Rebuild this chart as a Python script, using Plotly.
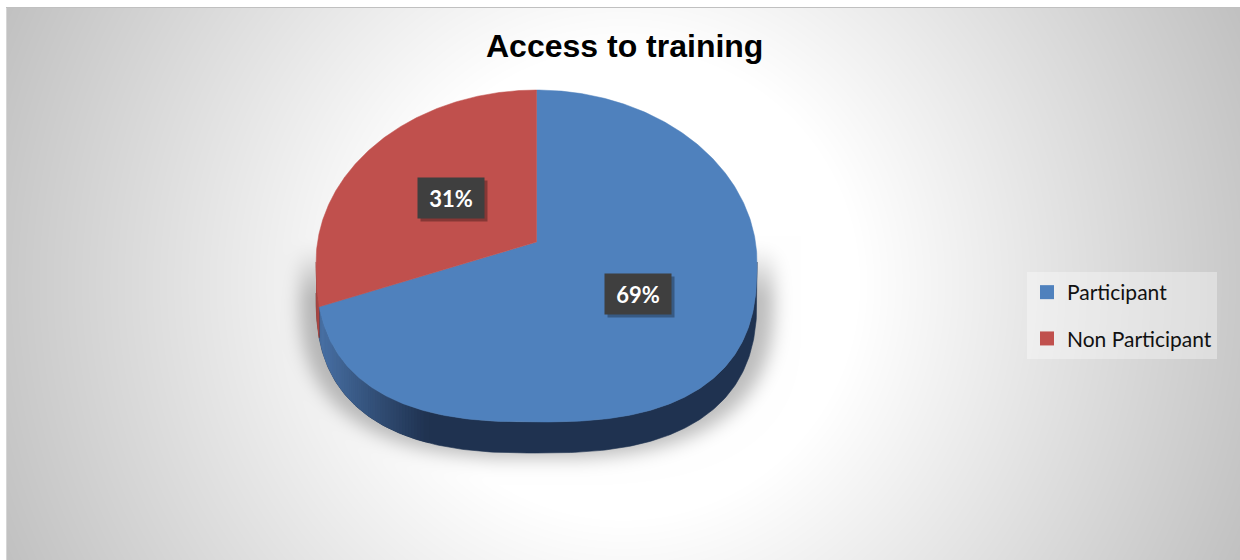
import base64
import struct
import zlib

import numpy as np
import plotly.graph_objects as go

# ---- data -------------------------------------------------------------
labels = ["Participant", "Non Participant"]
shares = [69, 31]
top_colors = ["#4f81bd", "#c0504d"]
side_colors = [("#4a73a8", "#1f3250"), ("#b04a47", "#6a2624")]
title_text = "Access to training"

# ---- canvas / pie geometry -------------------------------------------
W, H = 1240, 560
CX, CY_WIDE = 536.5, 262.0      # centre row of the rim (widest point)
VX, VY = 536.5, 242.0           # apex where the slices meet
RX = 220.5
RY_BACK, RY_FRONT = 172.0, 160.0
FRONT_EXP = 2.6                 # fuller near edge from the tilted view
DEPTH = 31.0                    # thickness of the disc
RY_DIR = 166.0                  # vertical scale used to aim slice edges


def rim(t):
    """Point on the top rim for parameter t (radians, counter-clockwise)."""
    t = np.asarray(t, dtype=float)
    c, s = np.cos(t), np.sin(t)
    back = s >= 0
    p = 2.0 / FRONT_EXP
    xf = CX + RX * np.sign(c) * np.abs(c) ** p
    yf = CY_WIDE + RY_FRONT * np.abs(s) ** p
    xb = CX + RX * c
    yb = CY_WIDE - RY_BACK * s
    return np.where(back, xb, xf), np.where(back, yb, yf)


# polar angle of the rim around the apex, used to aim each slice edge
_ts = np.linspace(0, 2 * np.pi, 6001)
_rx, _ry = rim(_ts)
_phi = np.unwrap(np.arctan2(-(_ry - VY), _rx - VX))


def t_for_angle(theta_deg):
    th = np.radians(theta_deg)
    phi = np.arctan2(RY_DIR * np.sin(th), RX * np.cos(th))
    while phi < _phi[0]:
        phi += 2 * np.pi
    while phi >= _phi[0] + 2 * np.pi:
        phi -= 2 * np.pi
    return float(np.interp(phi, _phi, _ts))


def mix(c1, c2, f):
    a = [int(c1[i:i + 2], 16) for i in (1, 3, 5)]
    b = [int(c2[i:i + 2], 16) for i in (1, 3, 5)]
    return "rgb(%d,%d,%d)" % tuple(round(a[k] + (b[k] - a[k]) * f) for k in range(3))


# slice angle ranges: start at 12 o'clock, run clockwise
bounds = []
start = 90.0
for s in shares:
    end = start - s * 3.6
    bounds.append((start, end))
    start = end

fig = go.Figure()

# ---- background: radial gradient plus the disc's soft shadow ----------
yy, xx = np.mgrid[0:H, 0:W].astype(float)
gcx, gcy = 623.0, 283.5
dist = np.hypot(xx - gcx, yy - gcy) / np.hypot(gcx - 6, gcy - 7)
bg = 255.0 - 62.0 * np.clip((dist - 0.35) / 0.65, 0, 1)

su = (xx - CX) / (RX * 1.075)
inside_u = np.abs(su) <= 1
suc = np.clip(np.abs(su), 0, 1)
top_edge = CY_WIDE - RY_BACK * np.sqrt(1 - suc ** 2)
bot_edge = CY_WIDE + DEPTH + RY_FRONT * (1 - suc ** FRONT_EXP) ** (1 / FRONT_EXP)
ys = yy - 5
mask = (inside_u & (ys >= top_edge) & (ys <= bot_edge)).astype(float)


def blur(a, sigma):
    r = int(3 * sigma)
    k = np.exp(-0.5 * (np.arange(-r, r + 1) / sigma) ** 2)
    k /= k.sum()
    a = np.apply_along_axis(lambda v: np.convolve(v, k, mode="same"), 1, a)
    a = np.apply_along_axis(lambda v: np.convolve(v, k, mode="same"), 0, a)
    return a


mask = blur(mask, 9.0)
fade = np.clip((yy - 235) / 70.0, 0, 1)
fade = fade * fade * (3 - 2 * fade)
bg = bg * (1 - 0.26 * mask * fade)

bg[:7, :] = 255
bg[:, :6] = 255
bg[7, 6:] = 192
bg[8:, 6] = 214
img = np.clip(bg, 0, 255).astype(np.uint8)
rgb = np.stack([img, img, img], axis=-1)


def png_bytes(arr):
    h, w, _ = arr.shape
    raw = b"".join(b"\x00" + arr[i].tobytes() for i in range(h))

    def chunk(tag, data):
        body = tag + data
        return struct.pack(">I", len(data)) + body + struct.pack(">I", zlib.crc32(body) & 0xFFFFFFFF)

    return (b"\x89PNG\r\n\x1a\n"
            + chunk(b"IHDR", struct.pack(">IIBBBBB", w, h, 8, 2, 0, 0, 0))
            + chunk(b"IDAT", zlib.compress(raw, 9))
            + chunk(b"IEND", b""))


bg_uri = "data:image/png;base64," + base64.b64encode(png_bytes(rgb)).decode()


def wall(t0, t1, n=40):
    tt = np.linspace(t0, t1, n)
    x, y = rim(tt)
    return np.concatenate([x, x[::-1]]), np.concatenate([y, (y + DEPTH)[::-1]])


# ---- side wall (front half only): dark base, lighter strips on the left
for (a, b), (light, dark) in zip(bounds, side_colors):
    ta, tb = t_for_angle(a), t_for_angle(b)
    if tb > ta:
        tb -= 2 * np.pi
    # front half of the rim is where sin(t) < 0, i.e. t in (pi, 2pi) mod 2pi
    for k in range(-1, 2):
        lo = max(tb, np.pi + 2 * np.pi * k)
        hi = min(ta, 2 * np.pi + 2 * np.pi * k)
        if hi <= lo:
            continue
        px, py = wall(lo, hi, 200)
        fig.add_trace(go.Scatter(x=px, y=py, mode="lines", fill="toself",
                                 fillcolor=dark, line=dict(color=dark, width=0.6),
                                 hoverinfo="skip", showlegend=False))
        n = max(1, int((hi - lo) / np.radians(1.0)))
        edges = np.linspace(lo, hi, n + 1)
        step = edges[1] - edges[0]
        for i in range(n):
            u = np.cos(0.5 * (edges[i] + edges[i + 1]))
            f = (u + 1) / 0.6
            if f >= 1:
                continue
            col = mix(light, dark, max(f, 0))
            e1 = min(edges[i + 1] + 0.6 * step, hi)
            px, py = wall(edges[i], e1, 6)
            fig.add_trace(go.Scatter(x=px, y=py, mode="lines", fill="toself",
                                     fillcolor=col, line=dict(width=0),
                                     hoverinfo="skip", showlegend=False))

# ---- top faces --------------------------------------------------------
for (a, b), col, lab, s in zip(bounds, top_colors, labels, shares):
    ta, tb = t_for_angle(a), t_for_angle(b)
    if tb > ta:
        tb -= 2 * np.pi
    tt = np.linspace(ta, tb, 400)
    x, y = rim(tt)
    fig.add_trace(go.Scatter(x=np.concatenate([[VX], x, [VX]]),
                             y=np.concatenate([[VY], y, [VY]]),
                             mode="lines", fill="toself", fillcolor=col,
                             line=dict(color=col, width=0.5),
                             name=lab, hoverinfo="name", showlegend=False))

# ---- legend entries ---------------------------------------------------
for lab, col in zip(labels, top_colors):
    fig.add_trace(go.Scatter(x=[None], y=[None], mode="markers", name=lab,
                             legendgroup=lab,
                             marker=dict(symbol="square", size=14, color=col)))

# ---- data labels ------------------------------------------------------
annotations = []
for (a, b), s in zip(bounds, shares):
    mid = 0.5 * (a + b)
    rx_, ry_ = rim(t_for_angle(mid))
    lx = VX + 0.5 * (float(rx_) - VX)
    ly = VY + 0.5 * (float(ry_) - VY)
    annotations.append(dict(x=lx, y=ly, xref="x", yref="y", text=" ",
                            showarrow=False, width=64, height=38,
                            bgcolor="rgba(0,0,0,0.3)", xshift=3, yshift=-3))
    annotations.append(dict(x=lx, y=ly, xref="x", yref="y", text=f"{s}%",
                            showarrow=False, width=64, height=38,
                            bgcolor="#3f3f3f",
                            font=dict(family="Lato", size=22, color="white",
                                      weight="bold")))

annotations.append(dict(x=624, y=46, xref="x", yref="y", text=title_text,
                        showarrow=False, xanchor="center", yanchor="middle",
                        font=dict(family="Liberation Sans, Arial", size=32,
                                  color="black", weight="bold")))

fig.update_layout(
    width=W, height=H,
    margin=dict(l=0, r=0, t=0, b=0),
    paper_bgcolor="white",
    plot_bgcolor="rgba(0,0,0,0)",
    xaxis=dict(range=[0, W], visible=False, fixedrange=True, domain=[0, 1]),
    yaxis=dict(range=[H, 0], visible=False, fixedrange=True, domain=[0, 1]),
    images=[dict(source=bg_uri, xref="paper", yref="paper", x=0, y=1,
                 sizex=1, sizey=1, xanchor="left", yanchor="top",
                 sizing="stretch", layer="below")],
    annotations=annotations,
    showlegend=True,
    legend=dict(x=1027 / W, y=1 - 272 / H, xanchor="left", yanchor="top",
                bgcolor="rgba(255,255,255,0.35)", tracegroupgap=16,
                font=dict(family="Lato", size=21, color="#111111"),
                itemclick=False, itemdoubleclick=False),
)

fig.write_html("out.html")
